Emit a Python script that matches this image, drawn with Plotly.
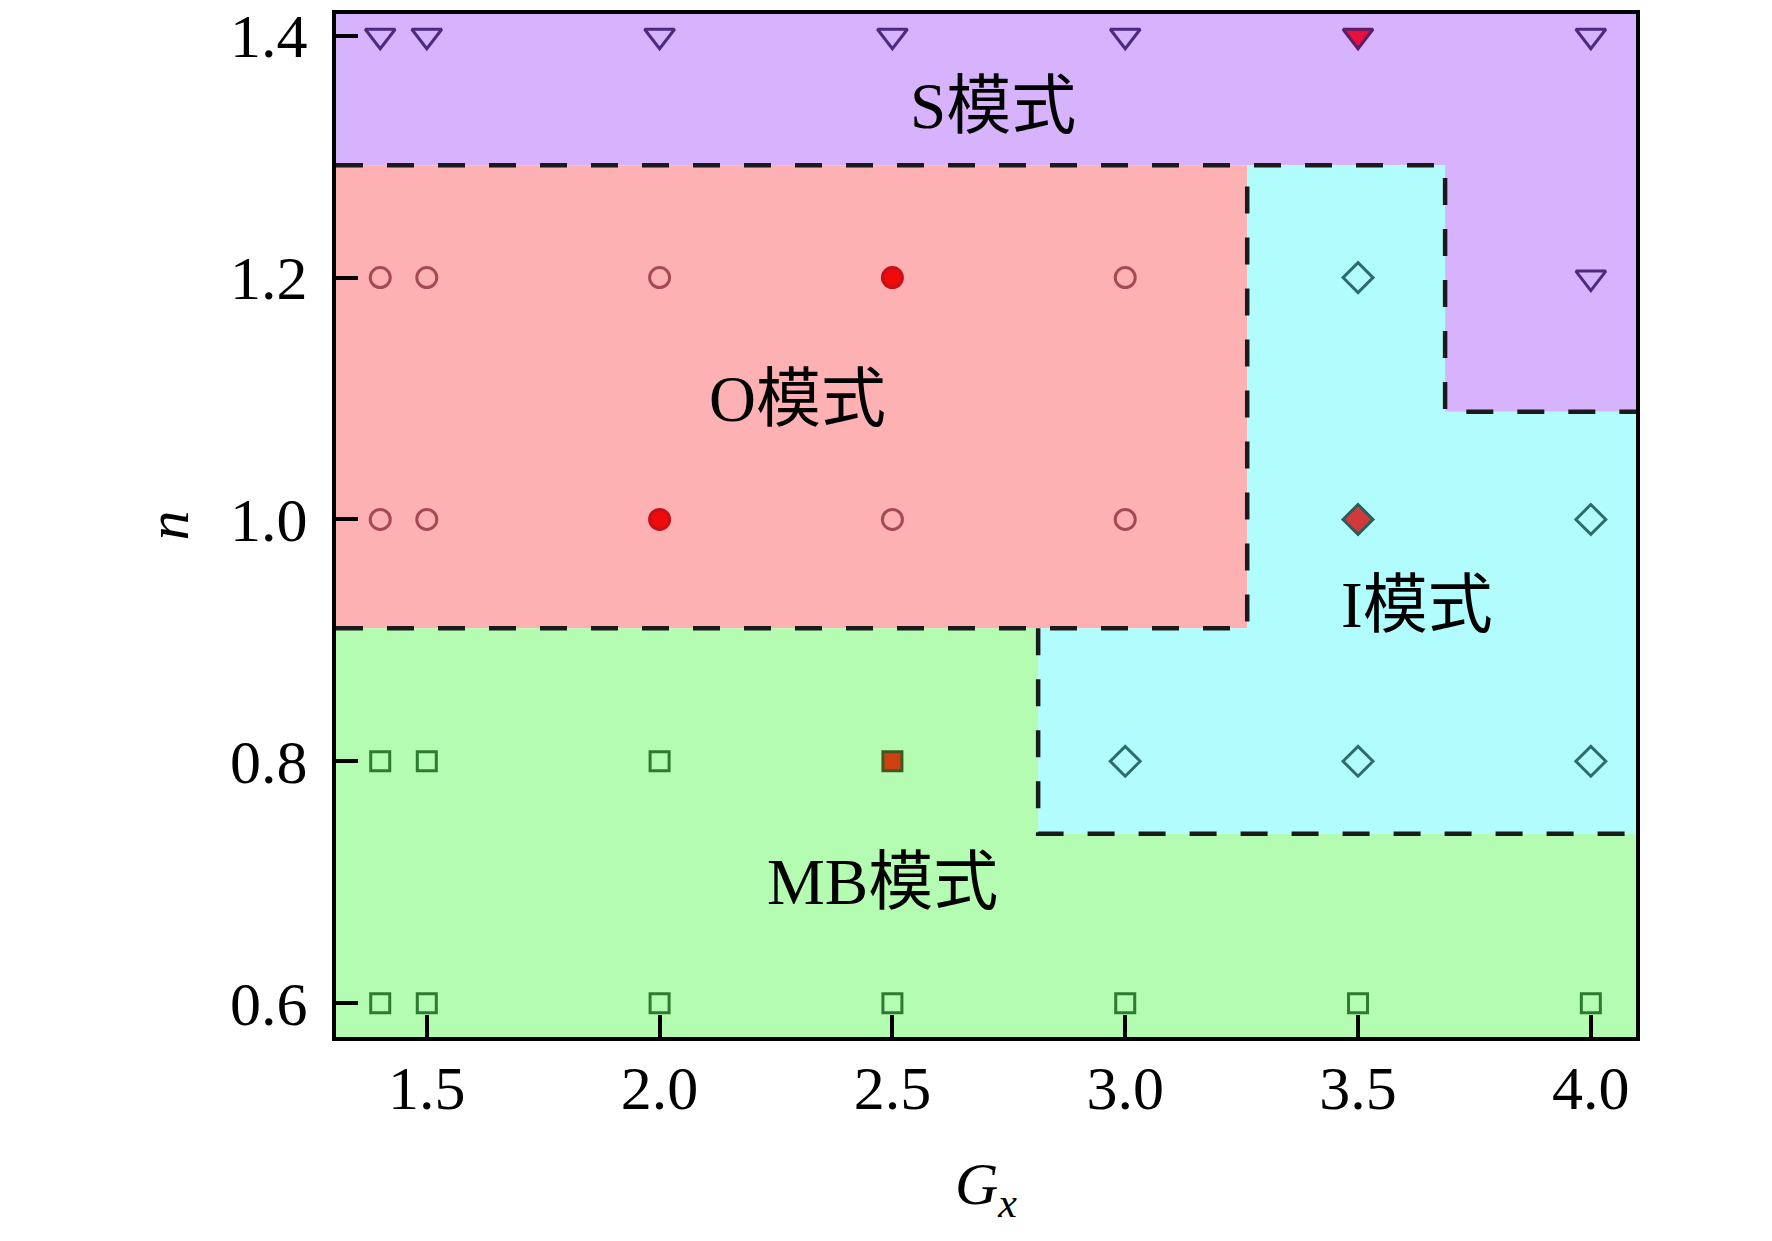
import plotly.graph_objects as go

# axis limits
gx_range = [1.305, 4.097]
n_range = [0.572, 1.418]

# mode boundaries
n_s_o = 1.293      # S / O boundary
n_s_i = 1.089      # S / I boundary (right side)
n_o_mb = 0.910     # O / MB boundary
n_i_mb = 0.740     # I / MB boundary
gx_o_i = 3.262     # O / I boundary
gx_i_s = 3.687     # I / S step
gx_mb_i = 2.813    # MB / I step

# simulation points per mode (open markers)
s_gx = [1.4, 1.5, 2.0, 2.5, 3.0, 4.0, 4.0]
s_n = [1.4, 1.4, 1.4, 1.4, 1.4, 1.4, 1.2]
o_gx = [1.4, 1.5, 2.0, 3.0, 1.4, 1.5, 2.5, 3.0]
o_n = [1.2, 1.2, 1.2, 1.2, 1.0, 1.0, 1.0, 1.0]
i_gx = [3.5, 4.0, 3.0, 3.5, 4.0]
i_n = [1.2, 1.0, 0.8, 0.8, 0.8]
mb_gx = [1.4, 1.5, 2.0, 1.4, 1.5, 2.0, 2.5, 3.0, 3.5, 4.0]
mb_n = [0.8, 0.8, 0.8, 0.6, 0.6, 0.6, 0.6, 0.6, 0.6, 0.6]

# highlighted cases (filled red)
s_sel_gx, s_sel_n = [3.5], [1.4]
o_sel_gx, o_sel_n = [2.5, 2.0], [1.2, 1.0]
i_sel_gx, i_sel_n = [3.5], [1.0]
mb_sel_gx, mb_sel_n = [2.5], [0.8]

labels = ["S模式", "O模式", "I模式", "MB模式"]
label_gx = [2.716, 2.296, 3.626, 2.478]
label_n = [1.342, 1.100, 0.929, 0.700]

x0, x1 = gx_range
y0, y1 = n_range

regions = {
    "S": ([x0, gx_i_s, gx_i_s, x1, x1, x0],
          [n_s_o, n_s_o, n_s_i, n_s_i, y1, y1], "#d7b3fd"),
    "O": ([x0, gx_o_i, gx_o_i, x0],
          [n_o_mb, n_o_mb, n_s_o, n_s_o], "#fdb1b3"),
    "I": ([gx_o_i, gx_i_s, gx_i_s, x1, x1, gx_mb_i, gx_mb_i, gx_o_i],
          [n_s_o, n_s_o, n_s_i, n_s_i, n_i_mb, n_i_mb, n_o_mb, n_o_mb], "#b1fdfd"),
    "MB": ([x0, x1, x1, gx_mb_i, gx_mb_i, x0],
           [y0, y0, n_i_mb, n_i_mb, n_o_mb, n_o_mb], "#b3fcb1"),
}

fig = go.Figure()

for name, (xs, ys, col) in regions.items():
    fig.add_trace(go.Scatter(x=xs, y=ys, fill="toself", fillcolor=col,
                             mode="lines", line=dict(width=0), hoverinfo="skip"))

# dashed boundaries
borders = [
    ([x0, gx_i_s, gx_i_s, x1], [n_s_o, n_s_o, n_s_i, n_s_i]),
    ([x0, gx_o_i, gx_o_i], [n_o_mb, n_o_mb, n_s_o]),
    ([gx_mb_i, gx_mb_i, x1], [n_o_mb, n_i_mb, n_i_mb]),
]
for xs, ys in borders:
    fig.add_trace(go.Scatter(x=xs, y=ys, mode="lines",
                             line=dict(color="#1a1a1a", width=4.5, dash="27px,24px")))

def pts(xs, ys, symbol, size, color, fill=None):
    if fill is None:
        marker = dict(symbol=symbol + "-open", size=size, color=color,
                      line=dict(width=3, color=color))
    else:
        marker = dict(symbol=symbol, size=size, color=fill,
                      line=dict(width=3, color=color))
    fig.add_trace(go.Scatter(x=xs, y=ys, mode="markers", marker=marker))

pts(s_gx, s_n, "triangle-down", 26, "#4b2a80")
pts(s_sel_gx, s_sel_n, "triangle-down", 26, "#5a1f6a", "#e8103a")
pts(o_gx, o_n, "circle", 20, "#a54a4e")
pts(o_sel_gx, o_sel_n, "circle", 20, "#c81018", "#f00a0a")
pts(i_gx, i_n, "diamond", 23, "#2e6c6c")
pts(i_sel_gx, i_sel_n, "diamond", 23, "#2e5c5c", "#d03a3a")
pts(mb_gx, mb_n, "square", 19, "#2e7a30")
pts(mb_sel_gx, mb_sel_n, "square", 19, "#3e5a20", "#d04010")

font = "Liberation Serif, Times New Roman, Noto Sans CJK SC"
for t, gx, n in zip(labels, label_gx, label_n):
    fig.add_annotation(x=gx, y=n, text=t, showarrow=False,
                       font=dict(family=font, size=65, color="black"))

axis_common = dict(showgrid=False, zeroline=False, showline=True, linecolor="black",
                   linewidth=4, mirror=True, ticks="inside", ticklen=22, tickwidth=4,
                   tickcolor="black", automargin=False, ticklabeloverflow="allow",
                   tickfont=dict(family=font, size=62, color="black"))

fig.update_xaxes(range=gx_range, tickvals=[1.5, 2.0, 2.5, 3.0, 3.5, 4.0],
                 ticktext=["1.5", "2.0", "2.5", "3.0", "3.5", "4.0"], ticklabelstandoff=-6,
                 title=dict(text="<i>G</i><sub><i>x</i></sub>",
                            font=dict(family=font, size=60, color="black"), standoff=42),
                 **axis_common)
fig.update_yaxes(range=n_range, tickvals=[0.6, 0.8, 1.0, 1.2, 1.4],
                 ticktext=["0.6", "0.8", "1.0", "1.2", "1.4"], ticklabelstandoff=12,
                 title=dict(text="<i>n</i>",
                            font=dict(family=font, size=60, color="black"), standoff=23),
                 **axis_common)

fig.update_layout(width=1772, height=1241, showlegend=False,
                  plot_bgcolor="white", paper_bgcolor="white",
                  margin=dict(l=328, r=144, t=6, b=212))

fig.write_html("out.html")
